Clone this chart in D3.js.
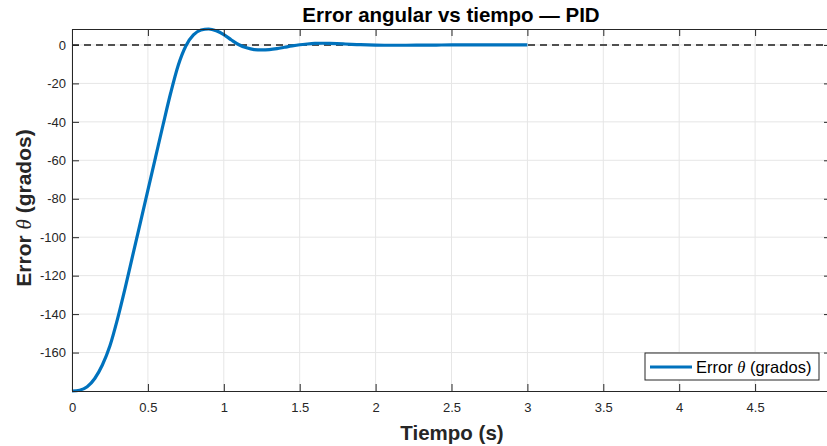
<!DOCTYPE html>
<html>
<head>
<meta charset="utf-8">
<script src="https://cdn.jsdelivr.net/npm/d3@7"></script>
<style>
  body { margin: 0; background: #fff; }
  svg { display: block; font-family: "Liberation Sans", Arial, sans-serif; }
</style>
</head>
<body>
<div id="chart"></div>
<script>
// Data
const tiempo = [0, 0.05, 0.1, 0.15, 0.2, 0.25, 0.3, 0.35, 0.4, 0.45, 0.5, 0.55, 0.6, 0.65, 0.7, 0.75,
  0.8, 0.85, 0.9, 0.95, 1.0, 1.05, 1.1, 1.15, 1.2, 1.25, 1.3, 1.35, 1.4, 1.45, 1.5, 1.55,
  1.6, 1.65, 1.7, 1.8, 1.9, 2.0, 2.1, 2.2, 2.3, 2.4, 2.5, 2.6, 2.8, 3.0];
const errorTheta = [-180, -179.6, -177.8, -173.5, -166.5, -156.5, -142.5, -126.5, -109.5, -92.5, -75.5, -58.5, -41.5, -25, -10.5, -0.5,
  5.2, 7.8, 8.3, 7.4, 5.4, 2.6, 0.1, -1.5, -2.4, -2.6, -2.4, -1.9, -1.2, -0.5, 0.1, 0.5,
  0.8, 0.9, 0.8, 0.5, 0.15, -0.05, -0.15, -0.15, -0.1, -0.05, 0, 0, 0, 0];
const xTicks = [0, 0.5, 1, 1.5, 2, 2.5, 3, 3.5, 4, 4.5, 5];
const yTicks = [-160, -140, -120, -100, -80, -60, -40, -20, 0];
const referencia = 0;

const W = 827, H = 446;
const margin = { top: 29, left: 72 };
const plotW = 759, plotH = 362;

const svg = d3.select("#chart").append("svg")
  .attr("width", W).attr("height", H);

const x = d3.scaleLinear().domain([0, 5]).range([margin.left, margin.left + plotW]);
const y = d3.scaleLinear().domain([-180, 8.3]).range([margin.top + plotH, margin.top]);

const axisColor = "#262626";
const fmt = d => String(d); // plain hyphen minus like MATLAB

// Grid
const grid = svg.append("g");
grid.selectAll(".gx").data(xTicks).join("line")
  .attr("x1", d => x(d)).attr("x2", d => x(d))
  .attr("y1", margin.top).attr("y2", margin.top + plotH)
  .attr("stroke", "#e6e6e6").attr("stroke-width", 1);
grid.selectAll(".gy").data(yTicks).join("line")
  .attr("x1", margin.left).attr("x2", margin.left + plotW)
  .attr("y1", d => y(d)).attr("y2", d => y(d))
  .attr("stroke", "#e6e6e6").attr("stroke-width", 1);

// Reference dashed line
svg.append("line")
  .attr("x1", margin.left).attr("x2", margin.left + plotW)
  .attr("y1", y(referencia)).attr("y2", y(referencia))
  .attr("stroke", "#505050").attr("stroke-width", 2)
  .attr("stroke-dasharray", "7,5");

// Curve
const line = d3.line().x((d, i) => x(tiempo[i])).y(d => y(d)).curve(d3.curveMonotoneX);
svg.append("path")
  .datum(errorTheta)
  .attr("d", line)
  .attr("fill", "none")
  .attr("stroke", "#0072bd")
  .attr("stroke-width", 3.2)
  .attr("stroke-linejoin", "round");

// Axes (MATLAB-style box with inward ticks)
const tickLen = 7;
const bottomAxis = d3.axisBottom(x).tickValues(xTicks).tickSize(-tickLen).tickPadding(12).tickFormat(fmt);
const topAxis = d3.axisTop(x).tickValues(xTicks).tickSize(-tickLen).tickFormat("");
const leftAxis = d3.axisLeft(y).tickValues(yTicks).tickSize(-tickLen).tickPadding(6).tickFormat(fmt);
const rightAxis = d3.axisRight(y).tickValues(yTicks).tickSize(-tickLen).tickFormat("");

function style(g) {
  g.select(".domain").attr("stroke", axisColor).attr("stroke-width", 1);
  g.selectAll(".tick line").attr("stroke", axisColor).attr("stroke-width", 1);
  g.selectAll("text").attr("fill", axisColor).style("font-size", "13px")
    .style("font-family", "'Liberation Sans', Arial, sans-serif");
}
svg.append("g").attr("transform", `translate(0,${margin.top + plotH})`).call(bottomAxis).call(style);
svg.append("g").attr("transform", `translate(0,${margin.top})`).call(topAxis).call(style);
svg.append("g").attr("transform", `translate(${margin.left},0)`).call(leftAxis).call(style);
svg.append("g").attr("transform", `translate(${margin.left + plotW},0)`).call(rightAxis).call(style);

// Title
svg.append("text")
  .attr("x", 451).attr("y", 21.5)
  .attr("text-anchor", "middle")
  .style("font-size", "20.5px").style("font-weight", "bold")
  .attr("fill", "#000")
  .text("Error angular vs tiempo — PID");

// X label
svg.append("text")
  .attr("x", 452).attr("y", 440)
  .attr("text-anchor", "middle")
  .style("font-size", "20.5px").style("font-weight", "bold")
  .attr("fill", axisColor)
  .text("Tiempo (s)");

// Y label
const yl = svg.append("text")
  .attr("transform", `translate(31,${margin.top + plotH / 2 - 2}) rotate(-90)`)
  .attr("text-anchor", "middle")
  .style("font-size", "21px").style("font-weight", "bold")
  .attr("fill", axisColor);
yl.append("tspan").text("Error ");
yl.append("tspan").style("font-family", "'Liberation Serif', serif").style("font-style", "italic").style("font-weight", "normal").text("θ");
yl.append("tspan").text(" (grados)");

// Legend
const lg = svg.append("g").attr("transform", "translate(645,353)");
lg.append("rect").attr("width", 174).attr("height", 27)
  .attr("fill", "#fff").attr("stroke", axisColor).attr("stroke-width", 1);
lg.append("line").attr("x1", 5).attr("x2", 47).attr("y1", 14).attr("y2", 14)
  .attr("stroke", "#0072bd").attr("stroke-width", 3.2);
const lt = lg.append("text").attr("x", 51).attr("y", 20)
  .style("font-size", "16.5px").attr("fill", "#000");
lt.append("tspan").text("Error ");
lt.append("tspan").style("font-family", "'Liberation Serif', serif").style("font-style", "italic").text("θ");
lt.append("tspan").text(" (grados)");
</script>
</body>
</html>
